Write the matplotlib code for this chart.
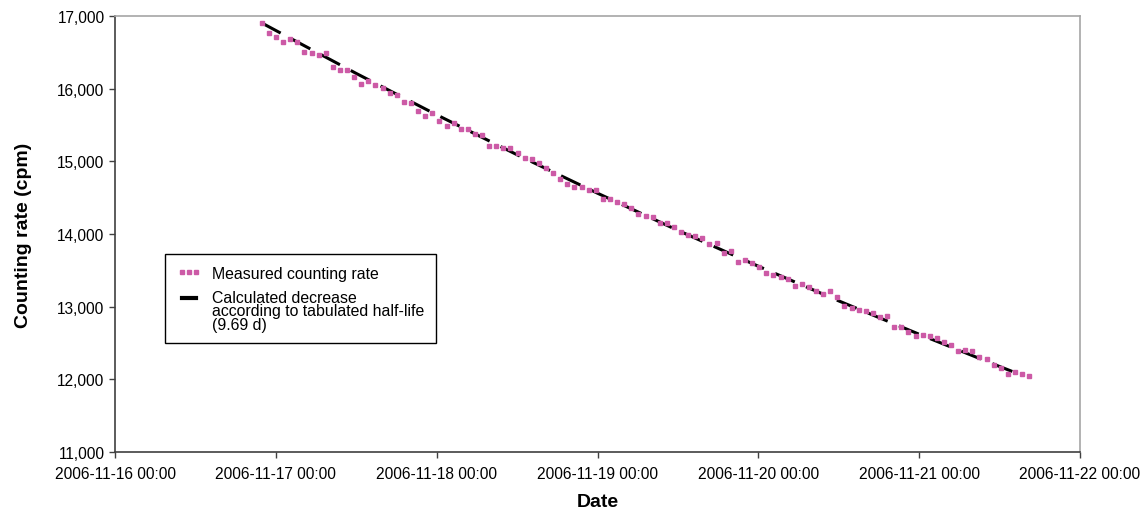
import numpy as np, pandas as pd, matplotlib
matplotlib.use("Agg")
import matplotlib.pyplot as plt, matplotlib.dates as mdates
from matplotlib.ticker import FuncFormatter
from matplotlib.legend_handler import HandlerLine2D

plt.rcParams['font.family'] = ['Liberation Sans', 'DejaVu Sans']

# measured counting rate (cpm)
meas_start, meas_end = "2006-11-16 21:54", "2006-11-21 16:25"
measured = [16904, 16763, 16717, 16640, 16681, 16644, 16511, 16497, 16466, 16493, 16292, 16251, 16256, 16164, 16059,
            16100, 16055, 16014, 15945, 15908, 15812, 15808, 15695, 15621, 15671, 15548, 15489, 15525, 15442, 15438,
            15379, 15360, 15210, 15215,
            15178, 15178, 15114, 15045, 15027, 14982, 14904, 14845, 14758, 14689, 14648, 14653, 14612, 14603, 14484,
            14479, 14442, 14415, 14352,
            14274, 14251, 14229, 14151, 14147, 14092, 14032, 13982, 13968, 13945, 13868, 13877, 13736, 13767, 13621,
            13648, 13607, 13544, 13465,
            13429, 13411, 13374, 13284, 13311, 13270, 13210, 13178, 13215, 13127, 13004, 12986, 12949, 12941, 12908,
            12863, 12867, 12722, 12722,
            12653, 12593, 12612, 12593, 12571, 12507, 12475, 12384, 12401, 12384, 12306, 12274, 12192, 12155, 12079,
            12096, 12079, 12045]

# calculated decrease (half-life 9.69 d)
calc_times = ["2006-11-16 21:54", "2006-11-17 00:00", "2006-11-17 12:00", "2006-11-18 00:00", "2006-11-18 12:00",
              "2006-11-19 00:00", "2006-11-19 12:00", "2006-11-20 00:00", "2006-11-20 12:00", "2006-11-21 00:00",
              "2006-11-21 12:00", "2006-11-21 14:47"]
calc_values = [16904, 16800, 16209, 15640, 15090, 14561, 14049, 13556, 13079, 12620, 12176, 12076]

meas_t = pd.date_range(meas_start, meas_end, periods=len(measured))
calc_t = pd.to_datetime(calc_times)


class TopLineHandler(HandlerLine2D):
    # put the legend line next to the first text line, not the middle one
    def create_artists(self, legend, orig_handle, xdescent, ydescent, width, height, fontsize, trans):
        arts = super().create_artists(legend, orig_handle, xdescent, ydescent, width, height, fontsize, trans)
        for a in arts:
            a.set_ydata(np.asarray(a.get_ydata()) + 9.5)
            a.set_linestyle("-"); a.set_linewidth(3)
        return arts


fig = plt.figure(figsize=(11.48, 5.10), dpi=100)
ax = fig.add_axes([0.1002, 0.1118, 0.8406, 0.8549])

calc_line, = ax.plot(calc_t, calc_values, color="black", lw=2.2, linestyle=(0, (7, 4)), zorder=2,
                     label="Calculated decrease\naccording to tabulated half-life\n(9.69 d)")
meas_line, = ax.plot(meas_t, measured, linestyle="none", marker="s", markersize=3.2, color="#cc5aa6",
                     mec="#cc5aa6", zorder=3, label="Measured counting rate")

ax.set_xlim(pd.Timestamp("2006-11-16"), pd.Timestamp("2006-11-22"))
ax.set_ylim(11000, 17000)
ax.set_yticks(np.arange(11000, 17001, 1000))
ax.yaxis.set_major_formatter(FuncFormatter(lambda v, p: f"{int(v):,}"))
ax.xaxis.set_major_locator(mdates.DayLocator())
ax.xaxis.set_major_formatter(mdates.DateFormatter("%Y-%m-%d %H:%M"))
ax.tick_params(labelsize=11.2, length=4, width=1, color="#404040")
ax.tick_params(axis="x", pad=6)

for s in ["top", "right"]:
    ax.spines[s].set_color("#a6a6a6"); ax.spines[s].set_linewidth(1.2)
for s in ["left", "bottom"]:
    ax.spines[s].set_color("#404040"); ax.spines[s].set_linewidth(1.2)

ax.set_ylabel("Counting rate (cpm)", fontsize=14, fontweight="bold", labelpad=18)
ax.set_xlabel("Date", fontsize=14, fontweight="bold", labelpad=9)

leg = ax.legend([meas_line, calc_line], [meas_line.get_label(), calc_line.get_label()],
                handler_map={calc_line: TopLineHandler()},
                loc="lower left", bbox_to_anchor=(0.0518, 0.249), fontsize=11.4,
                numpoints=3, handlelength=1.5, fancybox=False, edgecolor="black", framealpha=1,
                borderpad=0.75, labelspacing=0.6, handletextpad=0.7, borderaxespad=0)
leg.get_frame().set_linewidth(1.0)
for t in leg.get_texts():
    t.set_linespacing(0.85)

fig.savefig("out.png", dpi=100)
